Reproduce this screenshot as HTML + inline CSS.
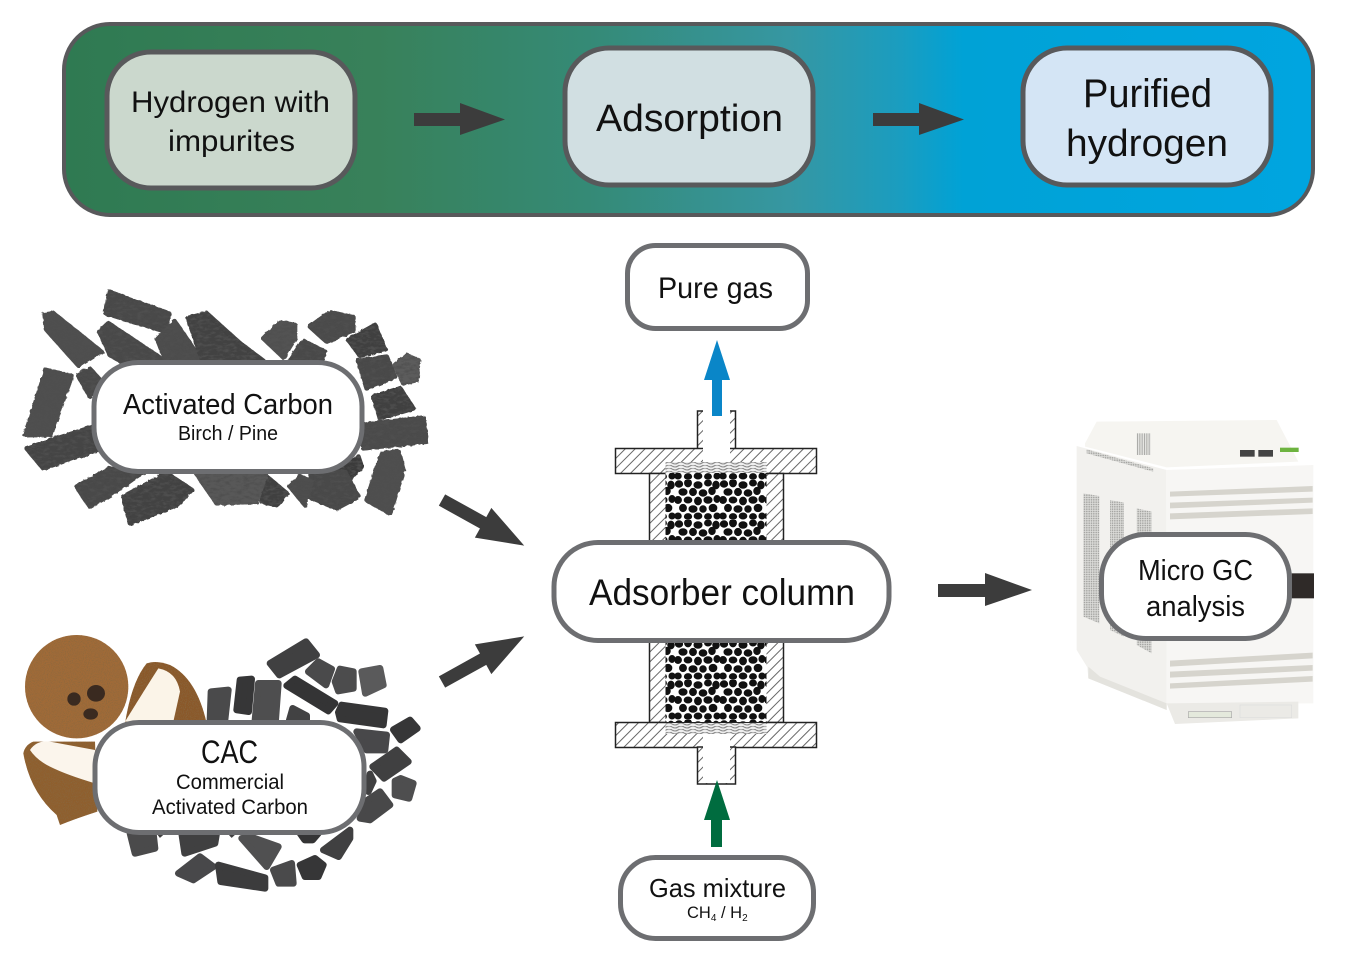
<!DOCTYPE html>
<html><head><meta charset="utf-8"><style>
html,body{margin:0;padding:0;background:#fff;width:1368px;height:966px;overflow:hidden}
svg{display:block}
text{font-family:"Liberation Sans",sans-serif;fill:#111;text-anchor:start}
</style></head><body>
<svg width="1368" height="966" viewBox="0 0 1368 966" xmlns="http://www.w3.org/2000/svg">
<defs>
<linearGradient id="bar" x1="64" x2="1313" y1="0" y2="0" gradientUnits="userSpaceOnUse">
<stop offset="0" stop-color="#2f7a52"/><stop offset=".25" stop-color="#38815a"/><stop offset=".42" stop-color="#358a76"/><stop offset=".58" stop-color="#3697a2"/><stop offset=".67" stop-color="#1a9dc0"/><stop offset=".72" stop-color="#00a2d6"/><stop offset="1" stop-color="#00a5e0"/>
</linearGradient>
<pattern id="hatch" width="7" height="7" patternUnits="userSpaceOnUse" patternTransform="rotate(-45)">
<rect width="7" height="7" fill="#fff"/><line x1="0" y1="3.500" x2="7" y2="3.500" stroke="#666" stroke-width="1"/>
</pattern>
<pattern id="pores" width="45" height="40" patternUnits="userSpaceOnUse">
<rect width="45" height="40" fill="#fff"/>
<g fill="#111" stroke="#111" stroke-width="1.100">
<ellipse cx="4" cy="4" rx="3.600" ry="3.200"/><ellipse cx="13" cy="3" rx="3.400" ry="3.800"/><ellipse cx="23" cy="5" rx="4" ry="3.200"/><ellipse cx="33" cy="3" rx="3.400" ry="3"/><ellipse cx="41" cy="5" rx="3.200" ry="3.800"/>
<ellipse cx="8" cy="12" rx="4" ry="3.200"/><ellipse cx="18" cy="12" rx="3.400" ry="3.600"/><ellipse cx="28" cy="13" rx="3.800" ry="3.200"/><ellipse cx="37" cy="11" rx="3.200" ry="3.600"/>
<ellipse cx="3" cy="20" rx="3.400" ry="3.400"/><ellipse cx="13" cy="20" rx="3.800" ry="3"/><ellipse cx="23" cy="21" rx="3.400" ry="3.800"/><ellipse cx="33" cy="20" rx="4" ry="3.200"/><ellipse cx="42" cy="19" rx="3" ry="3.400"/>
<ellipse cx="8" cy="28" rx="3.400" ry="3.600"/><ellipse cx="18" cy="29" rx="4" ry="3.200"/><ellipse cx="28" cy="29" rx="3.200" ry="3.200"/><ellipse cx="38" cy="28" rx="3.800" ry="3.600"/>
<ellipse cx="3" cy="36" rx="3.200" ry="3"/><ellipse cx="13" cy="36.500" rx="3.600" ry="2.800"/><ellipse cx="23" cy="36" rx="3.800" ry="3"/><ellipse cx="33" cy="36.500" rx="3.400" ry="2.800"/><ellipse cx="42" cy="36" rx="3" ry="3"/>
</g>
</pattern>
<pattern id="mesh" width="12" height="3" patternUnits="userSpaceOnUse">
<rect width="12" height="3" fill="#eee"/><path d="M0 1Q3 3 6 1T12 1" fill="none" stroke="#8a8a8a" stroke-width="1.100"/>
</pattern>
<pattern id="vent" width="7" height="7" patternUnits="userSpaceOnUse">
<rect width="7" height="7" fill="#dcdcd9"/><circle cx="3.500" cy="3.500" r="2.300" fill="#a0a09d"/>
</pattern>
<pattern id="slots" width="7" height="10" patternUnits="userSpaceOnUse">
<rect width="7" height="10" fill="#e6e6e3"/><rect width="3" height="10" fill="#a9a9a6"/>
</pattern>
<filter id="rough" x="-5%" y="-5%" width="110%" height="110%">
<feTurbulence type="fractalNoise" baseFrequency=".08" numOctaves="2" seed="4" result="n"/>
<feDisplacementMap in="SourceGraphic" in2="n" scale="9" result="d"/>
<feTurbulence type="fractalNoise" baseFrequency=".05 .12" numOctaves="3" seed="9" result="t"/>
<feColorMatrix in="t" type="matrix" values="0 0 0 0 .08  0 0 0 0 .08  0 0 0 0 .08  3 0 0 0 -1.300" result="k"/>
<feComposite in="k" in2="d" operator="in" result="cr"/>
<feMerge><feMergeNode in="d"/><feMergeNode in="cr"/></feMerge>
</filter>
<filter id="grain" x="-2%" y="-2%" width="104%" height="104%">
<feTurbulence type="fractalNoise" baseFrequency=".35" numOctaves="2" seed="3" result="t"/>
<feColorMatrix in="t" type="matrix" values="0 0 0 0 .25  0 0 0 0 .14  0 0 0 0 .05  2.500 0 0 0 -1.100" result="k"/>
<feComposite in="k" in2="SourceGraphic" operator="in" result="cr"/>
<feMerge><feMergeNode in="SourceGraphic"/><feMergeNode in="cr"/></feMerge>
</filter>
</defs>

<!-- top bar -->
<rect x="64" y="24" width="1249" height="191" rx="46" fill="url(#bar)" stroke="#58595b" stroke-width="4"/>
<g stroke="#58595b" stroke-width="5">
<rect x="107" y="52" width="248" height="136" rx="44" fill="#cbd8cd"/>
<rect x="565" y="48" width="248" height="137" rx="44" fill="#d1dfe2"/>
<rect x="1023" y="48" width="248" height="137" rx="44" fill="#d4e5f5"/>
</g>
<path d="M414 113H460V103L505 119.500L460 135V126H414Z" fill="#3c3c3c"/>
<path d="M873 113H919V103L964 119.500L919 135V126H873Z" fill="#3c3c3c"/>
<text x="131" y="112" font-size="30" textLength="199" lengthAdjust="spacingAndGlyphs">Hydrogen with</text>
<text x="168" y="151" font-size="30" textLength="127" lengthAdjust="spacingAndGlyphs">impurites</text>
<text x="596" y="131" font-size="38" textLength="187" lengthAdjust="spacingAndGlyphs">Adsorption</text>
<text x="1083" y="107" font-size="40" textLength="129" lengthAdjust="spacingAndGlyphs">Purified</text>
<text x="1066" y="156" font-size="38" textLength="162" lengthAdjust="spacingAndGlyphs">hydrogen</text>

<!-- activated carbon pellets -->
<g transform="translate(10 280) scale(.33333)">
<g filter="url(#rough)">
<g fill="#484848" stroke="#484848" stroke-width="14" stroke-linejoin="round">
<polygon points="298,36 476,100 466,154 288,100"/>
<polygon points="104,104 130,100 274,215 205,256 110,150" fill="#505050" stroke="#505050"/>
<polygon points="268,155 295,130 460,240 360,260 300,225"/>
<polygon points="442,178 495,125 580,250 470,250" fill="#4e4e4e" stroke="#4e4e4e"/>
<polygon points="534,114 590,100 690,190 770,250 580,250" fill="#424242" stroke="#424242"/>
<polygon points="760,175 810,127 855,135 855,175 820,232" fill="#525252" stroke="#525252"/>
<polygon points="840,240 880,183 945,215 930,250"/>
<polygon points="900,140 960,97 1030,112 1030,150 950,185" fill="#4c4c4c" stroke="#4c4c4c"/>
<polygon points="1015,180 1095,135 1125,208 1050,227" fill="#404040" stroke="#404040"/>
<polygon points="1045,242 1130,230 1155,290 1070,325"/>
<polygon points="1155,255 1190,225 1227,242 1220,300 1180,310" fill="#5c5c5c" stroke="#5c5c5c"/>
<polygon points="1090,350 1170,325 1210,385 1110,415" fill="#404040" stroke="#404040"/>
<polygon points="1060,435 1240,413 1250,485 1060,505" fill="#4c4c4c" stroke="#4c4c4c"/>
<polygon points="1115,520 1165,515 1180,570 1140,700 1070,660" fill="#505050" stroke="#505050"/>
<polygon points="975,575 1045,530 1055,560 1020,595" fill="#3a3a3a" stroke="#3a3a3a"/>
<polygon points="905,575 1005,575 1045,650 980,685 895,650"/>
<polygon points="840,620 870,590 905,605 885,675" fill="#4e4e4e" stroke="#4e4e4e"/>
<polygon points="755,665 770,590 830,640 800,675" fill="#404040" stroke="#404040"/>
<polygon points="555,575 770,575 740,665 620,670" fill="#585858" stroke="#585858"/>
<polygon points="340,650 470,580 545,630 500,675 360,730" fill="#424242" stroke="#424242"/>
<polygon points="200,620 300,565 400,575 300,645 240,680"/>
<polygon points="50,505 250,440 260,510 100,565" fill="#444" stroke="#444"/>
<polygon points="45,465 108,270 185,288 122,465" fill="#505050" stroke="#505050"/>
<polygon points="204,285 240,267 270,300 240,350"/>
</g>
</g>
</g>

<!-- coconut + CAC pellets -->
<g transform="translate(10 625) scale(.33333)">
<g filter="url(#grain)">
<circle cx="200" cy="185" r="155" fill="#a06a38"/>
<path d="M345 295Q365 170 410 115Q440 105 480 120Q560 160 590 295Z" fill="#8a5829"/>
<path d="M40 385Q45 360 70 350L255 350L262 560Q200 580 150 600L140 570Q60 500 40 385Z" fill="#8f5e2d"/>
</g>
<path d="M345 290Q400 200 445 130Q500 140 510 200L490 290Z" fill="#fbf4e8"/>
<path d="M60 375Q80 345 120 350L255 375V475Q170 450 120 425Q80 405 60 375Z" fill="#fbf5ec"/>
<g fill="#3a2a20"><ellipse cx="192" cy="222" rx="20" ry="20"/><ellipse cx="258" cy="205" rx="27" ry="25"/><ellipse cx="242" cy="267" rx="22" ry="17"/></g>
<g fill="#404041" stroke="#404041" stroke-width="20" stroke-linejoin="round">
<polygon points="780,115 888,50 920,90 808,150"/>
<polygon points="895,140 925,110 965,132 948,180" fill="#4a4a4b" stroke="#4a4a4b"/>
<polygon points="975,170 990,132 1030,140 1030,190 985,198" fill="#4c4c4d" stroke="#4c4c4d"/>
<polygon points="1055,140 1110,130 1120,180 1066,205" fill="#5a5a5b" stroke="#5a5a5b"/>
<polygon points="603,200 655,195 645,285 600,285" fill="#4a4a4b" stroke="#4a4a4b"/>
<polygon points="690,165 725,162 716,260 680,255" fill="#363637" stroke="#363637"/>
<polygon points="745,175 805,175 797,285 735,285" fill="#4e4e4f" stroke="#4e4e4f"/>
<polygon points="830,182 855,162 975,235 955,258" fill="#343435" stroke="#343435"/>
<polygon points="838,285 848,250 890,272 890,285" fill="#424243" stroke="#424243"/>
<polygon points="985,262 995,240 1125,258 1120,300 990,282" fill="#363637" stroke="#363637"/>
<polygon points="1040,320 1130,330 1125,375 1070,375" fill="#48484a" stroke="#48484a"/>
<polygon points="1150,314 1200,285 1222,310 1172,345" fill="#363637" stroke="#363637"/>
<polygon points="1088,425 1160,375 1195,410 1122,460"/>
<polygon points="1080,447 1090,468 1075,500"/>
<polygon points="1155,468 1172,460 1210,475 1197,520 1155,510" fill="#4e4e4f" stroke="#4e4e4f"/>
<polygon points="1070,527 1110,500 1140,540 1080,585 1050,580" fill="#484849" stroke="#484849"/>
<polygon points="940,675 1020,615 1020,640 986,695"/>
<polygon points="870,625 925,625 908,645 884,645" fill="#343435" stroke="#343435"/>
<polygon points="360,625 430,625 435,670 375,685" fill="#4a4a4b" stroke="#4a4a4b"/>
<polygon points="515,625 620,625 615,655 524,685"/>
<polygon points="695,640 720,635 805,665 770,725" fill="#505051" stroke="#505051"/>
<polygon points="505,745 570,695 610,725 550,765" fill="#48484a" stroke="#48484a"/>
<polygon points="625,720 765,758 765,790 632,770" fill="#3c3c3d" stroke="#3c3c3d"/>
<polygon points="790,735 845,715 850,775 806,775" fill="#4a4a4b" stroke="#4a4a4b"/>
<polygon points="870,720 915,700 940,720 925,755 885,755" fill="#363637" stroke="#363637"/>
<polygon points="655,625 677,625 665,636" stroke-width="4"/>
<polygon points="442,625 462,625 450,636" stroke-width="4"/>
</g>
</g>

<!-- GC instrument -->
<g transform="translate(1060 410) scale(.33333)">
<polygon points="75,100 110,35 650,30 715,155 320,172 75,110" fill="#f6f5f1"/>
<polygon points="50,108 320,180 320,900 85,805 82,772 50,720" fill="#f2f1ee"/>
<polygon points="318,180 760,165 760,880 320,882" fill="#f7f6f4"/>
<polygon points="320,880 715,875 715,925 345,942" fill="#ebeae6"/>
<polygon points="85,770 120,800 320,880 320,900 85,805" fill="#e4e3de"/>
<g fill="#d6d4cd">
<polygon points="330,245 758,228 758,245 330,260"/><polygon points="330,278 758,263 758,278 330,295"/><polygon points="330,310 758,295 758,312 330,328"/>
<polygon points="330,752 758,728 758,745 330,770"/><polygon points="330,785 758,765 758,782 330,803"/><polygon points="330,820 758,798 758,815 330,836"/>
</g>
<g fill="url(#vent)">
<polygon points="70,250 118,258 118,640 70,620"/>
<polygon points="150,270 192,278 192,680 150,660"/>
<polygon points="230,295 275,305 275,730 230,705"/>
<polygon points="80,118 280,175 280,185 80,130"/>
</g>
<rect x="230" y="70" width="42" height="65" fill="url(#slots)"/>
<rect x="695" y="490" width="67" height="75" fill="#2f2a28"/>
<rect x="660" y="113" width="56" height="13" fill="#6db33f"/>
<rect x="540" y="120" width="44" height="20" fill="#444"/><rect x="595" y="120" width="44" height="20" fill="#444"/>
<rect x="385" y="905" width="130" height="18" fill="#e4e9dc" stroke="#aaa" stroke-width="2"/>
<rect x="540" y="885" width="155" height="38" fill="none" stroke="#ddd" stroke-width="2"/>
</g>

<!-- column -->
<g stroke="#222" stroke-width="1.500">
<rect x="697.500" y="411" width="38" height="38" fill="url(#hatch)"/>
<rect x="615.500" y="448.500" width="201" height="25" fill="url(#hatch)"/>
<rect x="649.500" y="473.500" width="134" height="68" fill="url(#hatch)"/>
<rect x="649.500" y="640" width="134" height="82.500" fill="url(#hatch)"/>
<rect x="615.500" y="722.500" width="201" height="25" fill="url(#hatch)"/>
<rect x="697.500" y="747" width="38" height="37" fill="url(#hatch)"/>
</g>
<rect x="703" y="410" width="27" height="52" fill="#fff"/>
<rect x="703" y="734" width="27" height="49" fill="#fff"/>
<rect x="665.500" y="473" width="101" height="69" fill="url(#pores)"/>
<rect x="665.500" y="640" width="101" height="82" fill="url(#pores)"/>
<rect x="665.500" y="462" width="101" height="11" fill="url(#mesh)"/>
<rect x="665.500" y="723" width="101" height="11" fill="url(#mesh)"/>

<!-- flow arrows -->
<path d="M712 416V380H704L717 340L730 380H722V416Z" fill="#0a86c8"/>
<path d="M711 847V820H704L717 780L730 820H722V847Z" fill="#006c3f"/>
<path d="M938 584H985V573L1032 590L985 606V597H938Z" fill="#3c3c3c"/>
<path d="M0 -6.500H47V-17L94 0L47 17V6.500H0Z" fill="#3c3c3c" transform="translate(442 500) rotate(29)"/>
<path d="M0 -6.500H47V-17L94 0L47 17V6.500H0Z" fill="#3c3c3c" transform="translate(442 682) rotate(-29)"/>

<!-- label boxes -->
<g fill="#fff" stroke="#6d6e71" stroke-width="5">
<rect x="627.500" y="245.500" width="180" height="83" rx="28"/>
<rect x="94" y="362.500" width="268" height="109" rx="44"/>
<rect x="95" y="722.500" width="269" height="110" rx="44"/>
<rect x="554" y="542.500" width="335" height="98" rx="44"/>
<rect x="1101.500" y="534.500" width="188" height="104" rx="44"/>
<rect x="620.500" y="857.500" width="193" height="81" rx="35"/>
</g>
<text x="658" y="298" font-size="30" textLength="115" lengthAdjust="spacingAndGlyphs">Pure gas</text>
<text x="123" y="414" font-size="29" textLength="210" lengthAdjust="spacingAndGlyphs">Activated Carbon</text>
<text x="178" y="440" font-size="20" textLength="100" lengthAdjust="spacingAndGlyphs">Birch / Pine</text>
<text x="201" y="763" font-size="32" textLength="57" lengthAdjust="spacingAndGlyphs">CAC</text>
<text x="176" y="789" font-size="21" textLength="108" lengthAdjust="spacingAndGlyphs">Commercial</text>
<text x="152" y="814" font-size="21" textLength="156" lengthAdjust="spacingAndGlyphs">Activated Carbon</text>
<text x="589" y="605" font-size="37" textLength="266" lengthAdjust="spacingAndGlyphs">Adsorber column</text>
<text x="1138" y="580" font-size="29" textLength="115" lengthAdjust="spacingAndGlyphs">Micro GC</text>
<text x="1146" y="616" font-size="29" textLength="99" lengthAdjust="spacingAndGlyphs">analysis</text>
<text x="649" y="897" font-size="26" textLength="137" lengthAdjust="spacingAndGlyphs">Gas mixture</text>
<text x="687" y="918" font-size="16.500">CH<tspan font-size="10" dy="3">4</tspan><tspan dy="-3"> / H</tspan><tspan font-size="10" dy="3">2</tspan></text>
</svg>
</body></html>
